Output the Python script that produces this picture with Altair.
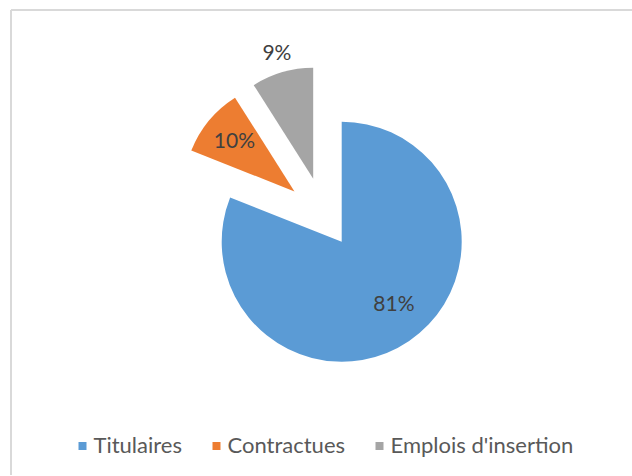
import altair as alt
import pandas as pd

# --- data -------------------------------------------------------------
categories = ["Titulaires", "Contractues", "Emplois d'insertion"]
values = [81, 10, 9]
labels = ["81%", "10%", "9%"]
order = [0, 1, 2]
colors = ["#5B9BD5", "#ED7D31", "#A5A5A5"]

df = pd.DataFrame({"cat": categories, "value": values, "label": labels, "order": order})

# --- layout / style constants ------------------------------------------
W, H = 621, 465
CX, CY = 330.7, 231.7  # pie centre inside plot area

base = alt.Chart(df).transform_joinaggregate(
    total="sum(value)"
).transform_window(
    cum="sum(value)", sort=[alt.SortField("order")], frame=[None, 0]
).transform_calculate(
    t0="2*PI*(datum.cum - datum.value)/datum.total",
    t1="2*PI*datum.cum/datum.total",
).transform_calculate(
    mid="(datum.t0 + datum.t1)/2",
    ex="datum.order == 0 ? 0 : 69",
    r="datum.order == 0 ? 120 : 111",
    lr="datum.order == 0 ? 82 : (datum.order == 1 ? 78 : 130)",
).transform_calculate(
    exang="datum.mid + (datum.order == 1 ? 0.126 : -0.143)",
    lang="datum.mid - (datum.order == 0 ? 0.094 : 0)",
).transform_calculate(
    cx=f"{CX} + datum.ex*sin(datum.exang)",
    cy=f"{CY} - datum.ex*cos(datum.exang)",
).transform_calculate(
    lx="datum.cx + datum.lr*sin(datum.lang)",
    ly="datum.cy - datum.lr*cos(datum.lang)",
)

arcs = base.mark_arc(strokeWidth=0).encode(
    theta=alt.Theta("t0:Q", scale=None),
    theta2=alt.Theta2("t1:Q"),
    radius=alt.Radius("r:Q", scale=None),
    x=alt.X("cx:Q", scale=None, axis=None),
    y=alt.Y("cy:Q", scale=None, axis=None),
    color=alt.Color(
        "cat:N",
        scale=alt.Scale(domain=categories, range=colors),
        sort=categories,
        legend=alt.Legend(
            title=None,
            orient="none",
            direction="horizontal",
            legendX=60.5,
            legendY=425,
            symbolType="square",
            symbolSize=64,
            symbolStrokeWidth=0,
            labelFont="Lato",
            labelFontSize=22,
            labelColor="#595959",
            labelOffset=0,
            labelLimit=0,
            columnPadding=23,
        ),
    ),
)

texts = base.mark_text(
    font="Lato", fontSize=21, color="#404040", align="center", baseline="middle"
).encode(
    x=alt.X("lx:Q", scale=None),
    y=alt.Y("ly:Q", scale=None),
    text="label:N",
)

top_line = alt.Chart(df).mark_rule(color="#d9d9d9", strokeWidth=1.5).encode(
    x=alt.value(0), x2=alt.value(W), y=alt.value(0)
)
left_line = alt.Chart(df).mark_rule(color="#d9d9d9", strokeWidth=1.5).encode(
    x=alt.value(0), y=alt.value(0), y2=alt.value(H)
)

chart = alt.layer(top_line, left_line, arcs, texts).properties(
    width=W,
    height=H,
    padding={"left": 11, "top": 10, "right": 0, "bottom": 0},
    autosize=alt.AutoSizeParams(type="none"),
    background="white",
).configure_view(strokeWidth=0).configure(font="Lato")

chart.save("out.html", embed_options={"renderer": "svg", "actions": False})
